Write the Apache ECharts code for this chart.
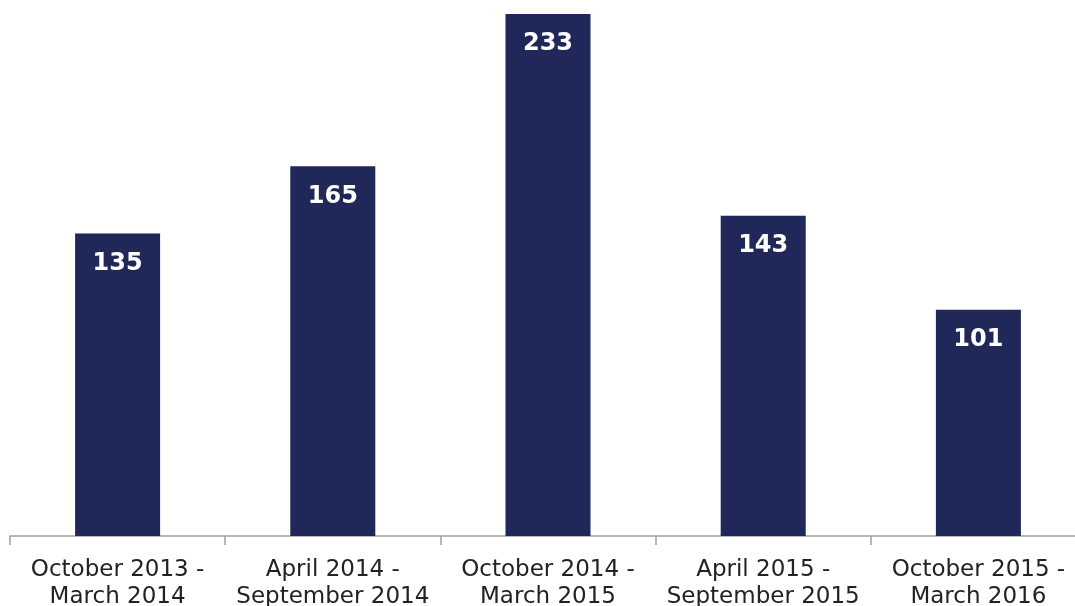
<!DOCTYPE html>
<html>
<head>
<meta charset="utf-8">
<script src="https://cdn.jsdelivr.net/npm/echarts@6/dist/echarts.min.js"></script>
<style>
  html, body { margin: 0; padding: 0; background: #ffffff; }
  #chart { width: 1075px; height: 606px; }
</style>
</head>
<body>
<div id="chart"></div>
<script>
// Six-month reporting periods and the count recorded in each
const periods = [
  'October 2013 -\nMarch 2014',
  'April 2014 -\nSeptember 2014',
  'October 2014 -\nMarch 2015',
  'April 2015 -\nSeptember 2015',
  'October 2015 -\nMarch 2016'
];
const counts = [135, 165, 233, 143, 101];

const chart = echarts.init(document.getElementById('chart'), null, { renderer: 'canvas' });

chart.setOption({
  animation: false,
  backgroundColor: '#ffffff',
  // the last category runs a little past the right edge of the canvas
  grid: { left: 10, top: 14, bottom: 70, width: 1076, outerBoundsMode: 'none', containLabel: false },
  xAxis: {
    type: 'category',
    data: periods,
    axisLine: { lineStyle: { color: '#a0a0a0', width: 1.5 } },
    axisTick: { show: true, length: 9, lineStyle: { color: '#a0a0a0', width: 1.5 } },
    axisLabel: {
      color: '#222222',
      fontFamily: 'DejaVu Sans',
      fontSize: 23,
      lineHeight: 27,
      margin: 21,
      interval: 0
    }
  },
  yAxis: {
    type: 'value',
    min: 0,
    max: 'dataMax',
    show: false,
    splitLine: { show: false }
  },
  series: [{
    type: 'bar',
    data: counts,
    barWidth: '39.5%',
    itemStyle: { color: '#1f2858' },
    label: {
      show: true,
      position: 'insideTop',
      distance: 18,
      color: '#ffffff',
      fontFamily: 'DejaVu Sans',
      fontWeight: 'bold',
      fontSize: 24
    }
  }]
});
</script>
</body>
</html>
